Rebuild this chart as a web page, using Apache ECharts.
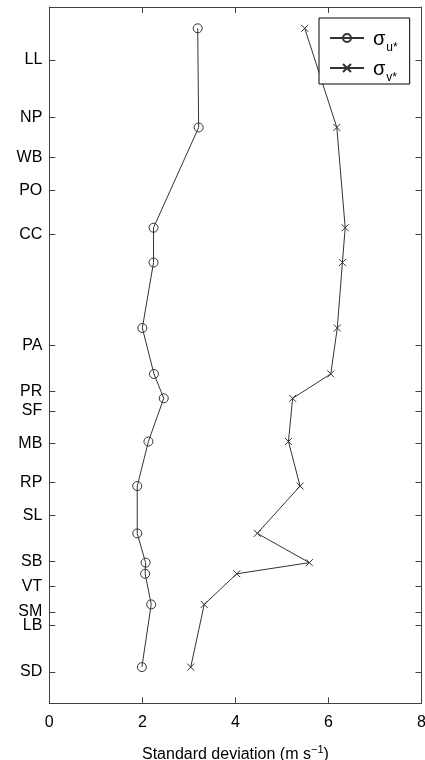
<!DOCTYPE html>
<html>
<head>
<meta charset="utf-8">
<script src="https://cdn.jsdelivr.net/npm/echarts@6/dist/echarts.min.js"></script>
<style>
  html, body { margin: 0; padding: 0; background: #fff; }
  #chart { width: 425px; height: 760px; }
</style>
</head>
<body>
<div id="chart"></div>
<script>
// Site labels and their positions along the profile (0 = top, 100 = bottom)
const siteNames = ['LL', 'NP', 'WB', 'PO', 'CC', 'PA', 'PR', 'SF', 'MB', 'RP', 'SL', 'SB', 'VT', 'SM', 'LB', 'SD'];
const sitePos = [7.6, 15.9, 21.6, 26.3, 32.7, 48.6, 55.2, 58.0, 62.7, 68.3, 73.0, 79.6, 83.2, 86.9, 88.8, 95.5];

// Measurement levels along the same profile
const levels = [3.06, 17.3, 31.7, 36.7, 46.1, 52.7, 56.2, 62.4, 68.8, 75.6, 79.8, 81.4, 85.8, 94.8];

// Standard deviations (m s^-1)
const sigmaU = [3.19, 3.21, 2.24, 2.24, 2.00, 2.25, 2.46, 2.13, 1.89, 1.89, 2.07, 2.06, 2.19, 1.99];
const sigmaV = [5.49, 6.18, 6.36, 6.30, 6.19, 6.05, 5.23, 5.14, 5.39, 4.47, 5.59, 4.03, 3.33, 3.04];

const xTicks = [0, 2, 4, 6, 8];

const axisColor = '#404040';
const markColor = '#333';
const fontFamily = '"Liberation Sans", Arial, sans-serif';

const posToName = {};
sitePos.forEach((p, i) => { posToName[p] = siteNames[i]; });

// Frame lines stay on the plot edges; ticks point into the plot
const frameLine = { show: true, onZero: false, lineStyle: { color: axisColor, width: 1 } };
const innerTick = { show: true, inside: true, length: 6, lineStyle: { color: axisColor } };

const chart = echarts.init(document.getElementById('chart'), null, { renderer: 'canvas' });

chart.setOption({
  backgroundColor: '#fff',
  animation: false,
  textStyle: { fontFamily: fontFamily },
  grid: { left: 49.3, right: 3.5, top: 7, bottom: 56.7, containLabel: false, outerBoundsMode: 'none' },
  legend: {
    orient: 'vertical',
    left: 319,
    top: 18,
    padding: [11, 12, 0, 10],
    itemGap: 5,
    itemWidth: 34,
    itemHeight: 10,
    borderColor: '#000',
    borderWidth: 1,
    backgroundColor: '#fff',
    data: ['u', 'v'],
    formatter: function (name) { return '{s|σ}{sub|' + name + '*}'; },
    textStyle: {
      color: '#000',
      padding: [0, 0, 0, 4],
      rich: {
        s: { fontSize: 20, fontFamily: fontFamily, color: '#000', verticalAlign: 'bottom', lineHeight: 22 },
        sub: { fontSize: 12, fontFamily: fontFamily, color: '#000', verticalAlign: 'bottom', padding: [0, 0, -5, 1], lineHeight: 22 }
      }
    }
  },
  xAxis: [
    {
      type: 'value',
      position: 'bottom',
      min: 0,
      max: 8,
      interval: 2,
      name: 'Standard deviation (m s{sup|−1})',
      nameLocation: 'middle',
      nameGap: 41,
      nameTextStyle: {
        fontSize: 16,
        color: '#000',
        fontFamily: fontFamily,
        rich: {
          sup: { fontSize: 11, color: '#000', fontFamily: fontFamily, verticalAlign: 'top', padding: [0, 0, 10, 0] }
        }
      },
      axisLine: frameLine,
      axisTick: innerTick,
      axisLabel: {
        fontSize: 16,
        color: '#000',
        margin: 11,
        formatter: function (v) { return xTicks.indexOf(v) >= 0 ? String(v) : ''; }
      },
      splitLine: { show: false }
    },
    {
      type: 'value',
      position: 'top',
      min: 0,
      max: 8,
      interval: 2,
      axisLine: frameLine,
      axisTick: innerTick,
      axisLabel: { show: false },
      splitLine: { show: false }
    }
  ],
  yAxis: [
    {
      type: 'value',
      position: 'left',
      inverse: true,
      min: 0,
      max: 100,
      axisLine: frameLine,
      axisTick: Object.assign({}, innerTick, { customValues: sitePos }),
      axisLabel: {
        show: true,
        customValues: sitePos,
        fontSize: 16,
        color: '#000',
        margin: 7,
        formatter: function (v) { return posToName[v] || ''; }
      },
      splitLine: { show: false }
    },
    {
      type: 'value',
      position: 'right',
      inverse: true,
      min: 0,
      max: 100,
      axisLine: frameLine,
      axisTick: Object.assign({}, innerTick, { customValues: sitePos }),
      axisLabel: { show: false },
      splitLine: { show: false }
    }
  ],
  series: [
    {
      name: 'u',
      type: 'line',
      xAxisIndex: 0,
      yAxisIndex: 0,
      data: sigmaU.map((v, i) => [v, levels[i]]),
      symbol: 'circle',
      symbolSize: 9,
      showAllSymbol: true,
      lineStyle: { color: markColor, width: 1 },
      itemStyle: { color: 'rgba(255,255,255,0)', borderColor: markColor, borderWidth: 1 },
      emphasis: { disabled: true }
    },
    {
      name: 'v',
      type: 'line',
      xAxisIndex: 0,
      yAxisIndex: 0,
      data: sigmaV.map((v, i) => [v, levels[i]]),
      symbol: 'path://M0,0L10,10M10,0L0,10',
      symbolSize: 7,
      showAllSymbol: true,
      lineStyle: { color: markColor, width: 1 },
      itemStyle: { color: 'rgba(255,255,255,0)', borderColor: markColor, borderWidth: 1 },
      emphasis: { disabled: true }
    }
  ]
});
</script>
</body>
</html>
